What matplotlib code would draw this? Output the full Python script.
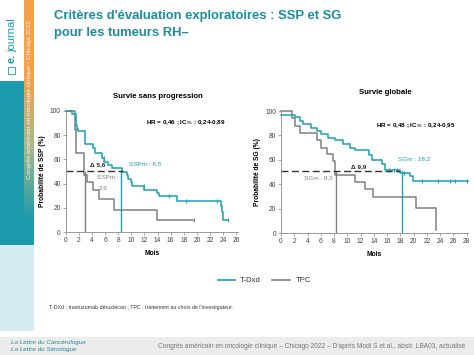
import matplotlib
matplotlib.use("Agg")
import matplotlib.pyplot as plt
import numpy as np
from matplotlib.patches import Rectangle
from matplotlib.colors import LinearSegmentedColormap

plt.rcParams['font.family'] = ['Liberation Sans', 'DejaVu Sans']

TEAL = '#1aa0b2'
GRAY = '#808080'
TITLE_C = '#1a8e9c'

# Survie sans progression (SSP)
ssp_tdxd_t = [0, 1.0, 1.5, 1.7, 1.9, 2.9, 4.2, 4.5, 5.5, 5.9, 6.5, 7.0, 8.6, 9.3, 9.5, 9.9, 10.1, 12.0, 13.9, 14.2, 17.0, 23.7, 23.8, 24.0]
ssp_tdxd_s = [100, 97, 88, 85, 83, 73, 69, 65, 61, 58, 55, 53, 50, 47, 44, 41, 38, 35, 32, 30, 26, 22, 17, 10]
ssp_tdxd_end = 24.7
ssp_tdxd_cens_t = [5.8, 12.0, 15.7, 18.3, 23.0, 24.7]
ssp_tdxd_cens_s = [61, 38, 30, 26, 26, 10]

ssp_tpc_t = [0, 1.4, 1.6, 2.8, 3.3, 4.2, 5.1, 7.3, 13.9]
ssp_tpc_s = [100, 84, 65, 47, 41, 35, 27, 18, 10]
ssp_tpc_end = 19.6
ssp_tpc_cens_t = [19.6]
ssp_tpc_cens_s = [10]

# Survie globale (SG)
sg_tdxd_t = [0, 2.1, 2.9, 3.3, 4.6, 5.4, 6.1, 7.1, 8.1, 9.4, 10.4, 11.2, 13.3, 13.7, 15.2, 15.7, 17.9, 19.4, 19.9]
sg_tdxd_s = [97, 95, 92, 89, 86, 84, 81, 78, 76, 73, 70, 68, 64, 60, 57, 52, 49, 47, 43]
sg_tdxd_end = 28.2
sg_tdxd_cens_t = [16.3, 17.0, 17.5, 18.6, 21.3, 23.7, 25.5, 26.3, 28.0]
sg_tdxd_cens_s = [52, 52, 52, 49, 43, 43, 43, 43, 43]

sg_tpc_t = [0, 1.7, 2.1, 2.8, 5.4, 6.1, 7.0, 7.8, 8.2, 11.2, 12.6, 13.9, 20.3, 23.4]
sg_tpc_s = [100, 94, 88, 82, 76, 70, 65, 59, 48, 42, 36, 30, 21, 3]
sg_tpc_end = 23.4
sg_tpc_cens_t = [18.2]
sg_tpc_cens_s = [30]

ssp_median = {'tdxd': 8.5, 'tpc': 2.9}
sg_median = {'tdxd': 18.2, 'tpc': 8.3}

fig = plt.figure(figsize=(4.74, 3.55), dpi=100)

# background / slide decoration in pixel coordinates
bg = fig.add_axes([0, 0, 1, 1])
bg.set_xlim(0, 474)
bg.set_ylim(355, 0)
bg.axis('off')
bg.add_patch(Rectangle((0, 81), 34, 164, color='#1a9aab', lw=0))
grad = LinearSegmentedColormap.from_list('g', ['#f5a04a', '#f5a04a', '#a9b98a', '#1a9aab'])
bg.imshow(np.linspace(0, 1, 200).reshape(-1, 1), cmap=grad, aspect='auto',
          extent=(24, 34, 220, 0), zorder=1)
bg.add_patch(Rectangle((0, 245), 34, 86, color='#d6ecf3', lw=0))
bg.add_patch(Rectangle((0, 337), 474, 18, color='#ececec', lw=0))
bg.add_patch(Rectangle((8, 67), 7, 7, fill=False, ec='#1a9aab', lw=0.6))
bg.text(12, 63, 'e.', rotation=90, ha='center', va='bottom', color='#1a9aab', fontsize=8, fontweight='bold')
bg.text(12, 52, 'journal', rotation=90, ha='center', va='bottom', color='#1a9aab', fontsize=8)
bg.text(29.5, 100, "Congrès américain en oncologie clinique - Chicago 2022", rotation=90,
        ha='center', va='center', color='white', fontsize=4.6, alpha=0.85, zorder=3)
bg.text(54, 16, "Critères d'évaluation exploratoires : SSP et SG", color=TITLE_C,
        fontsize=9.4, fontweight='bold', va='center')
bg.text(54, 33, "pour les tumeurs RH–", color=TITLE_C, fontsize=9.4, fontweight='bold', va='center')
bg.text(49, 308, "T-DXd : trastuzumab déruxtécan ; TPC : traitement au choix de l'investigateur.",
        fontsize=3.8, va='center', color='#333333')
bg.text(11, 342.5, 'La Lettre du Cancérologue', fontsize=4.6, style='italic', color='#1a8e9c', va='center')
bg.text(11, 349.5, 'La Lettre du Sénologue', fontsize=4.6, style='italic', color='#1a8e9c', va='center')
bg.text(465, 346, "Congrès américain en oncologie clinique – Chicago 2022 – D'après Modi S et al., abstr. LBA03, actualisé",
        fontsize=4.75, ha='right', va='center', color='#777777')
bg.plot([218, 235], [280, 280], color=TEAL, lw=1.2)
bg.text(240, 280, 'T-Dxd', fontsize=5.6, va='center', color='#333333')
bg.plot([272, 290], [280, 280], color=GRAY, lw=1.2)
bg.text(296, 280, 'TPC', fontsize=5.6, va='center', color='#333333')


def km(ax, t, s, end, ct, cs, color):
    xs = list(t) + [end]
    ys = list(s) + [s[-1]]
    ax.step(xs, ys, where='post', color=color, lw=1.1, clip_on=False)
    ax.plot(ct, cs, ls='none', marker='|', ms=2.5, mew=0.7, color=color, clip_on=False)


def style(ax, xmax, xticks, ylabel):
    ax.set_xlim(0, xmax)
    ax.set_ylim(0, 100)
    ax.set_xticks(xticks)
    ax.set_yticks([0, 20, 40, 60, 80, 100])
    for sp in ['top', 'right']:
        ax.spines[sp].set_visible(False)
    for sp in ['left', 'bottom']:
        ax.spines[sp].set_color('#888888')
        ax.spines[sp].set_linewidth(0.6)
    ax.tick_params(labelsize=4.8, length=2, width=0.5, color='#888888', pad=1.5, labelcolor='#444444')
    ax.set_xlabel('Mois', fontsize=4.8, fontweight='bold', labelpad=4)
    ax.set_ylabel(ylabel, fontsize=4.8, fontweight='bold', labelpad=3)
    ax.patch.set_alpha(0)


# left: SSP
ax1 = fig.add_axes([0.1386, 0.3456, 0.364, 0.3425])
style(ax1, 26.3, range(0, 27, 2), 'Probabilité de SSP (%)')
km(ax1, ssp_tpc_t, ssp_tpc_s, ssp_tpc_end, ssp_tpc_cens_t, ssp_tpc_cens_s, GRAY)
km(ax1, ssp_tdxd_t, ssp_tdxd_s, ssp_tdxd_end, ssp_tdxd_cens_t, ssp_tdxd_cens_s, TEAL)
ax1.plot([ssp_median['tpc']] * 2, [0, 50], color=GRAY, lw=1.0)
ax1.plot([ssp_median['tdxd']] * 2, [0, 50], color=TEAL, lw=1.0)
ax1.plot([0, 8.8], [50.5, 50.5], color='#333333', lw=1.0, ls=(0, (5, 2.5)))
ax1.text(3.7, 54, 'Δ 5,6', fontsize=4.6, fontweight='bold', color='#222222', va='bottom')
ax1.text(9.6, 56, 'SSPm : 8,5', fontsize=4.6, color=TEAL, va='center')
ax1.text(4.7, 45, 'SSPm :', fontsize=4.6, color=GRAY, va='center')
ax1.text(5.0, 37, '2,9', fontsize=4.6, color=GRAY, va='center')
ax1.text(12.2, 90, 'HR = 0,46 ; IC$_{95}$ : 0,24-0,89', fontsize=4.5, fontweight='bold', va='center')
fig.text(158 / 474, 1 - 96.7 / 355, 'Survie sans progression', fontsize=5.6, fontweight='bold', ha='center', va='center')

# right: SG
ax2 = fig.add_axes([0.5928, 0.3428, 0.3945, 0.3445])
style(ax2, 28.2, range(0, 29, 2), 'Probabilité de SG (%)')
km(ax2, sg_tpc_t, sg_tpc_s, sg_tpc_end, sg_tpc_cens_t, sg_tpc_cens_s, GRAY)
km(ax2, sg_tdxd_t, sg_tdxd_s, sg_tdxd_end, sg_tdxd_cens_t, sg_tdxd_cens_s, TEAL)
ax2.plot([sg_median['tpc']] * 2, [0, 50], color=GRAY, lw=1.0)
ax2.plot([sg_median['tdxd']] * 2, [0, 51], color=TEAL, lw=1.0)
ax2.plot([0, 18.0], [51, 51], color='#333333', lw=1.0, ls=(0, (5, 2.5)))
ax2.text(10.6, 52.5, 'Δ 9,9', fontsize=4.6, fontweight='bold', color='#222222', va='bottom')
ax2.text(17.6, 61, 'SGm : 18,2', fontsize=4.6, color=TEAL, va='center')
ax2.text(3.4, 45.5, 'SGm : 8,3', fontsize=4.6, color=GRAY, va='center')
ax2.text(14.4, 88, 'HR = 0,48 ; IC$_{95}$ : 0,24-0,95', fontsize=4.5, fontweight='bold', va='center')
fig.text(385 / 474, 1 - 92.7 / 355, 'Survie globale', fontsize=5.6, fontweight='bold', ha='center', va='center')

fig.savefig('out.png', dpi=100)
